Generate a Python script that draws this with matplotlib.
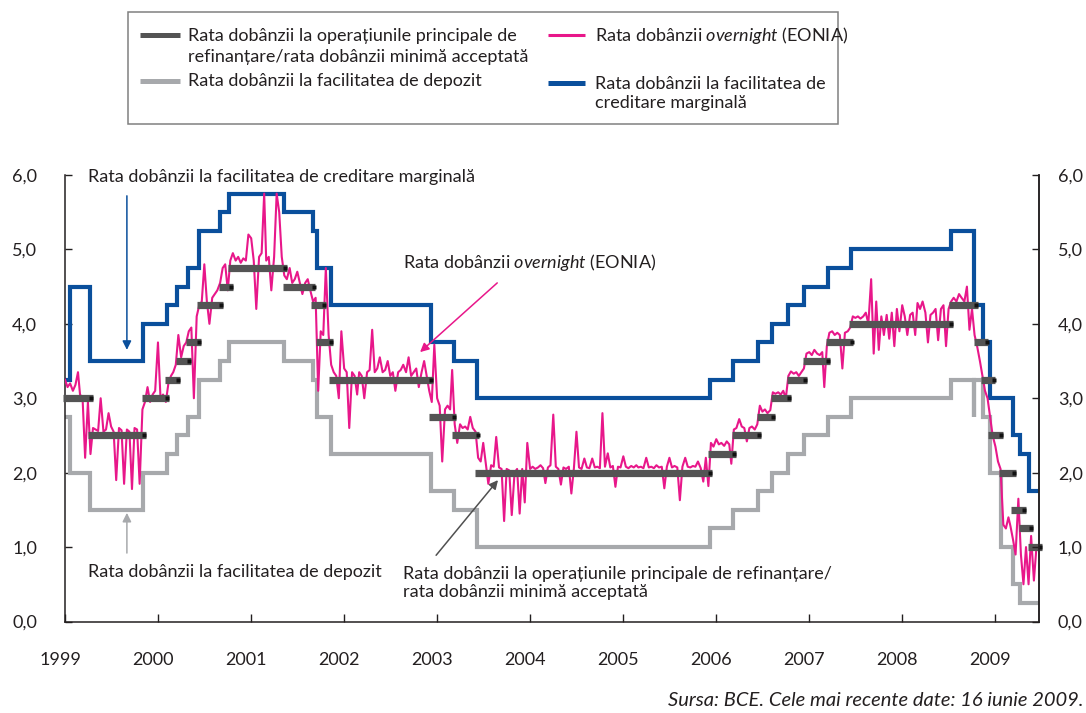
import numpy as np
import pandas as pd
import matplotlib
matplotlib.use("Agg")
import matplotlib.pyplot as plt
import matplotlib.transforms as mtrans
from matplotlib.lines import Line2D
from matplotlib.patches import Rectangle

FONT = "Lato"
plt.rcParams['font.family'] = [FONT, 'DejaVu Sans']
plt.rcParams['mathtext.fontset'] = 'custom'
plt.rcParams['mathtext.rm'] = FONT
plt.rcParams['mathtext.it'] = FONT + ':italic'

# ---------------- data ----------------
data_end = "2009-06-16"

mro_dates = ["1999-01-01", "1999-04-09", "1999-11-05", "2000-02-04", "2000-03-17",
             "2000-04-28", "2000-06-09", "2000-09-01", "2000-10-06", "2001-05-11",
             "2001-08-31", "2001-09-18", "2001-11-09", "2002-12-06", "2003-03-07",
             "2003-06-06", "2005-12-06", "2006-03-08", "2006-06-15", "2006-08-09",
             "2006-10-11", "2006-12-13", "2007-03-14", "2007-06-13", "2008-07-09",
             "2008-10-15", "2008-11-12", "2008-12-10", "2009-01-21", "2009-03-11",
             "2009-04-08", "2009-05-13"]
mro_values = [3.00, 2.50, 3.00, 3.25, 3.50, 3.75, 4.25, 4.50, 4.75, 4.50,
              4.25, 3.75, 3.25, 2.75, 2.50, 2.00, 2.25, 2.50, 2.75, 3.00,
              3.25, 3.50, 3.75, 4.00, 4.25, 3.75, 3.25, 2.50, 2.00, 1.50,
              1.25, 1.00]

dep_dates = ["1999-01-04", "1999-01-22", "1999-04-09", "1999-11-05", "2000-02-04",
             "2000-03-17", "2000-04-28", "2000-06-09", "2000-09-01", "2000-10-06",
             "2001-05-11", "2001-08-31", "2001-09-18", "2001-11-09", "2002-12-06",
             "2003-03-07", "2003-06-06", "2005-12-06", "2006-03-08", "2006-06-15",
             "2006-08-09", "2006-10-11", "2006-12-13", "2007-03-14", "2007-06-13",
             "2008-07-09", "2008-10-08", "2008-10-09", "2008-11-12", "2008-12-10",
             "2009-01-21", "2009-03-11", "2009-04-08"]
dep_values = [2.75, 2.00, 1.50, 2.00, 2.25, 2.50, 2.75, 3.25, 3.50, 3.75,
              3.50, 3.25, 2.75, 2.25, 1.75, 1.50, 1.00, 1.25, 1.50, 1.75,
              2.00, 2.25, 2.50, 2.75, 3.00, 3.25, 2.75, 3.25, 2.75, 2.00,
              1.00, 0.50, 0.25]

mlf_dates = ["1999-01-04", "1999-01-22", "1999-04-09", "1999-11-05", "2000-02-04",
             "2000-03-17", "2000-04-28", "2000-06-09", "2000-09-01", "2000-10-06",
             "2001-05-11", "2001-08-31", "2001-09-18", "2001-11-09", "2002-12-06",
             "2003-03-07", "2003-06-06", "2005-12-06", "2006-03-08", "2006-06-15",
             "2006-08-09", "2006-10-11", "2006-12-13", "2007-03-14", "2007-06-13",
             "2008-07-09", "2008-10-08", "2008-10-09", "2008-11-12", "2008-12-10",
             "2009-01-21", "2009-03-11", "2009-04-08", "2009-05-13"]
mlf_values = [3.25, 4.50, 3.50, 4.00, 4.25, 4.50, 4.75, 5.25, 5.50, 5.75,
              5.50, 5.25, 4.75, 4.25, 3.75, 3.50, 3.00, 3.25, 3.50, 3.75,
              4.00, 4.25, 4.50, 4.75, 5.00, 5.25, 4.75, 4.25, 3.75, 3.00,
              3.00, 2.50, 2.25, 1.75]

# EONIA, read roughly on the 1st, 11th and 21st of every month
eonia_1999 = [3.25, 3.15, 3.20, 3.10, 3.18, 3.35, 3.05, 3.00, 2.20, 2.95, 2.25, 2.60,
              2.58, 2.56, 3.00, 2.55, 2.58, 2.80, 2.62, 2.55, 1.90, 2.60, 2.57, 1.85,
              2.58, 2.55, 1.78, 2.60, 2.58, 1.85, 2.85, 2.95, 3.15, 2.95, 3.05, 3.10]
eonia_2000 = [3.75, 3.00, 3.05, 2.95, 3.20, 3.30, 3.35, 3.45, 3.85, 3.55, 3.70, 3.75,
              3.90, 3.95, 3.00, 4.10, 4.25, 4.30, 4.80, 4.30, 4.00, 4.35, 4.40, 4.45,
              4.55, 4.75, 4.80, 4.45, 4.85, 4.95, 4.85, 4.90, 4.82, 4.88, 4.85, 5.20]
eonia_2001 = [5.15, 4.85, 4.20, 4.90, 4.95, 5.75, 4.85, 4.90, 4.45, 4.90, 5.75, 5.50,
              4.90, 4.65, 4.60, 4.75, 4.55, 4.60, 4.70, 4.55, 4.40, 4.55, 4.60, 4.45,
              4.30, 4.35, 3.10, 3.90, 3.85, 4.75, 3.85, 3.45, 3.35, 3.30, 3.00, 3.90]
eonia_2002 = [3.40, 3.35, 2.60, 3.35, 3.30, 3.05, 3.35, 3.30, 3.00, 3.35, 3.38, 3.92,
              3.35, 3.40, 3.55, 3.35, 3.38, 3.50, 3.30, 3.35, 3.10, 3.35, 3.38, 3.45,
              3.35, 3.55, 3.30, 3.35, 3.40, 3.15, 3.35, 3.50, 3.30, 3.10, 2.95, 3.72]
eonia_2003 = [3.00, 2.90, 2.15, 2.85, 2.90, 2.85, 3.38, 2.65, 2.40, 2.65, 2.60, 2.62,
              2.58, 2.75, 2.60, 2.55, 2.20, 2.15, 2.40, 2.12, 1.85, 2.10, 2.08, 2.48,
              2.07, 2.05, 1.35, 2.05, 2.03, 1.43, 2.00, 2.05, 1.45, 2.05, 1.60, 2.40]
eonia_2004 = [2.05, 2.08, 2.05, 2.07, 2.10, 2.06, 1.86, 2.07, 2.10, 2.78, 2.08, 2.05,
              1.84, 2.07, 2.05, 2.08, 1.72, 2.06, 2.55, 2.07, 2.05, 2.19, 2.07, 2.06,
              2.19, 2.07, 2.08, 2.06, 2.80, 2.08, 2.26, 2.07, 2.09, 1.81, 2.08, 2.07]
eonia_2005 = [2.22, 2.08, 2.06, 2.09, 2.07, 2.10, 2.07, 2.08, 2.06, 2.20, 2.07, 2.08,
              2.06, 2.10, 2.07, 2.08, 1.79, 2.08, 2.20, 2.07, 2.09, 2.07, 1.63, 2.08,
              2.20, 2.08, 2.07, 2.09, 2.08, 2.15, 2.06, 1.88, 2.20, 1.82, 2.40, 2.35]
eonia_2006 = [2.45, 2.38, 2.40, 2.36, 2.42, 2.38, 2.12, 2.58, 2.60, 2.72, 2.62, 2.60,
              2.42, 2.60, 2.62, 2.58, 2.65, 2.90, 2.82, 2.85, 2.80, 2.84, 3.08, 3.06,
              3.08, 3.05, 3.10, 3.00, 3.30, 3.36, 3.33, 3.35, 3.30, 3.35, 3.40, 3.60]
eonia_2007 = [3.62, 3.58, 3.65, 3.60, 3.58, 3.62, 3.15, 3.70, 3.88, 3.90, 3.85, 3.88,
              3.85, 3.40, 3.88, 3.90, 3.95, 4.10, 4.08, 4.10, 4.07, 4.10, 4.15, 4.00,
              4.60, 3.60, 4.30, 3.65, 4.10, 3.85, 4.12, 3.80, 4.15, 3.70, 4.20, 3.90]
eonia_2008 = [4.25, 4.10, 3.85, 4.12, 4.15, 3.85, 4.28, 4.20, 4.30, 4.15, 3.75, 4.12,
              4.15, 4.20, 3.78, 4.20, 4.25, 3.70, 4.20, 4.30, 4.35, 4.30, 4.40, 4.35,
              4.30, 4.50, 3.92, 4.20, 3.85, 3.70, 3.50, 3.30, 3.10, 3.00, 2.75, 2.50]
eonia_2009 = [2.35, 2.15, 2.05, 1.30, 1.25, 1.40, 1.28, 1.10, 0.90, 1.65, 0.90, 0.50,
              1.00, 0.50, 1.15, 0.55, 1.00]

years = [1999, 2000, 2001, 2002, 2003, 2004, 2005, 2006, 2007, 2008, 2009]
yticks = [0, 1, 2, 3, 4, 5, 6]

label_mro = "Rata dobânzii la operațiunile principale de\nrefinanțare/rata dobânzii minimă acceptată"
label_eonia = r"Rata dobânzii $\mathit{overnight}$ (EONIA)"
label_dep = "Rata dobânzii la facilitatea de depozit"
label_mlf = "Rata dobânzii la facilitatea de\ncreditare marginală"
ann_mlf = "Rata dobânzii la facilitatea de creditare marginală"
ann_mro = "Rata dobânzii la operațiunile principale de refinanțare/\nrata dobânzii minimă acceptată"
source = "Sursa: BCE. Cele mai recente date: 16 iunie 2009."

# ---------------- styles ----------------
C_MRO = "#545454"
C_EONIA = "#e8178a"
C_DEP = "#a7a9ac"
C_MLF = "#0a4f9c"
C_TXT = "#231f20"
FS = 13

W, H = 1086, 713
fig = plt.figure(figsize=(W / 100, H / 100), dpi=100)

def px(x, y):
    return x / W, 1 - y / H

rect = [65 / W, 1 - 621.5 / H, (1039 - 65) / W, (621.5 - 175) / H]
ax = fig.add_axes(rect)

t0 = pd.Timestamp("1999-01-01")
t1 = pd.Timestamp("2009-06-21")
tend = pd.Timestamp(data_end)

# deposit & marginal lending (step lines)
def step_line(dates, vals, color):
    d = [pd.Timestamp(s) for s in dates] + [t1]
    v = list(vals) + [vals[-1]]
    ax.plot(d, v, drawstyle="steps-post", color=color, lw=3.0,
            solid_joinstyle="miter", zorder=2)

step_line(dep_dates, dep_values, C_DEP)
step_line(mlf_dates, mlf_values, C_MLF)

# EONIA
def year_dates(year, n):
    out = []
    for m in range(1, 13):
        for d in (1, 11, 21):
            out.append(pd.Timestamp(year, m, d))
    return out[:n]

eonia_lists = [eonia_1999, eonia_2000, eonia_2001, eonia_2002, eonia_2003, eonia_2004,
               eonia_2005, eonia_2006, eonia_2007, eonia_2008, eonia_2009]
e_dates, e_vals = [], []
for yr, vals in zip(years, eonia_lists):
    e_dates += year_dates(yr, len(vals))
    e_vals += vals
ax.plot(e_dates, e_vals, color=C_EONIA, lw=1.5, zorder=3, solid_joinstyle="round")

# MRO bars
md = [pd.Timestamp(s) for s in mro_dates] + [tend]
for i, v in enumerate(mro_values):
    s = md[i] - pd.Timedelta(days=6)
    e = max(md[i + 1], md[i] + pd.Timedelta(days=40)) + pd.Timedelta(days=10)
    ax.plot([s, e], [v, v], color=C_MRO, lw=5.2, solid_capstyle="butt",
            zorder=4, clip_on=False)
    ax.plot([e - pd.Timedelta(days=7)], [v], marker="s", ms=3.2, color="#111111",
            mec="none", zorder=5, clip_on=False)

# axes
ax.set_xlim(t0, t1)
ax.set_ylim(0, 6)
ax.set_yticks(yticks)
ax.set_yticklabels([f"{v:.1f}".replace(".", ",") for v in yticks])
ax.set_xticks([pd.Timestamp(y, 1, 1) for y in years])
ax.set_xticklabels([str(y) for y in years])
ax.spines["top"].set_visible(False)
for s in ("left", "right", "bottom"):
    ax.spines[s].set_linewidth(1.1)
    ax.spines[s].set_color(C_TXT)
ax.tick_params(axis="y", direction="in", length=5, width=1, labelsize=FS,
               left=True, right=False, labelleft=True, labelright=False, pad=20,
               colors=C_TXT)
ax.tick_params(axis="x", direction="in", length=6, width=1, labelsize=FS,
               pad=22, colors=C_TXT)
shift = mtrans.ScaledTranslation(-5 / 100, 0, fig.dpi_scale_trans)
for lab in ax.get_xticklabels():
    lab.set_transform(lab.get_transform() + shift)

# right axis labels
ax2 = ax.twinx()
ax2.set_ylim(0, 6)
ax2.set_yticks(yticks)
ax2.set_yticklabels([f"{v:.1f}".replace(".", ",") for v in yticks])
for s in ("top", "left", "bottom"):
    ax2.spines[s].set_visible(False)
ax2.spines["right"].set_linewidth(1.1)
ax2.spines["right"].set_color(C_TXT)
ax2.tick_params(axis="y", direction="in", length=5, width=1, labelsize=FS,
                pad=13.5, colors=C_TXT)

# annotations
arrow_kw = dict(arrowstyle="-|>", lw=1.1, mutation_scale=13, shrinkA=0, shrinkB=0)
ax.annotate("", xy=(pd.Timestamp("1999-09-01"), 3.65), xytext=(pd.Timestamp("1999-09-01"), 5.72),
            arrowprops=dict(color=C_MLF, **arrow_kw), zorder=6)
ax.text(pd.Timestamp("1999-04-01"), 5.97, ann_mlf,
        fontsize=FS, color=C_TXT, va="center", ha="left")

ax.annotate("", xy=(pd.Timestamp("2002-10-26"), 3.62), xytext=(pd.Timestamp("2003-08-25"), 4.55),
            arrowprops=dict(color=C_EONIA, **arrow_kw), zorder=6)
ax.text(pd.Timestamp("2002-08-20"), 4.83, label_eonia,
        fontsize=FS, color=C_TXT, va="center", ha="left")

ax.annotate("", xy=(pd.Timestamp("1999-09-01"), 1.46), xytext=(pd.Timestamp("1999-09-01"), 0.92),
            arrowprops=dict(color=C_DEP, **arrow_kw), zorder=6)
ax.text(pd.Timestamp("1999-04-01"), 0.665, label_dep,
        fontsize=FS, color=C_TXT, va="center", ha="left")

ax.annotate("", xy=(pd.Timestamp("2003-08-28"), 1.90), xytext=(pd.Timestamp("2002-12-28"), 0.89),
            arrowprops=dict(color="#505050", **arrow_kw), zorder=6)
ax.text(pd.Timestamp("2002-08-20"), 0.52, ann_mro,
        fontsize=FS, color=C_TXT, va="center", ha="left", linespacing=1.2)

# legend (manual)
x0, y0 = px(128, 124)
x1, y1 = px(838, 12)
fig.add_artist(Rectangle((x0, y0), x1 - x0, y1 - y0, transform=fig.transFigure,
                         fill=False, ec="#808080", lw=1.1))

def leg_line(xa, xb, y, color, lw):
    a, b = px(xa, y), px(xb, y)
    fig.add_artist(Line2D([a[0], b[0]], [a[1], b[1]], color=color, lw=lw,
                          solid_capstyle="butt", transform=fig.transFigure))

leg_line(140, 180, 35, C_MRO, 3.6)
leg_line(140, 180, 81, C_DEP, 3.6)
leg_line(548, 585, 35, C_EONIA, 2.2)
leg_line(548, 585, 83, C_MLF, 3.6)
fig.text(*px(188, 46.5), label_mro, fontsize=FS, color=C_TXT, va="center", ha="left",
         linespacing=1.32)
fig.text(*px(188, 81), label_dep, fontsize=FS, color=C_TXT, va="center", ha="left")
fig.text(*px(595, 35), label_eonia, fontsize=FS, color=C_TXT, va="center", ha="left")
fig.text(*px(595, 93.5), label_mlf, fontsize=FS, color=C_TXT, va="center", ha="left",
         linespacing=1.2)

fig.text(*px(1083, 700), source, fontsize=14.5, style="italic", color=C_TXT,
         va="center", ha="right")

fig.savefig("out.png", dpi=100)
